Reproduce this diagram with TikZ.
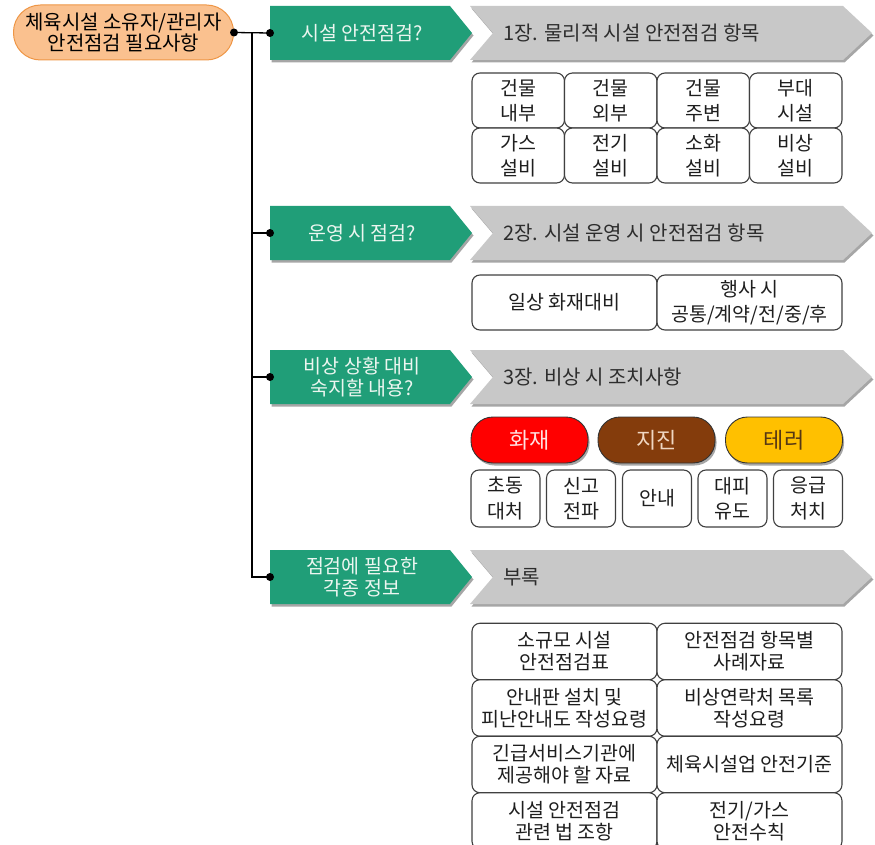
\documentclass[tikz,border=0pt]{standalone}
\usepackage{fontspec}
\setmainfont{Noto Sans CJK KR}
\usetikzlibrary{shadows}
\definecolor{orfill}{RGB}{250,193,143}
\definecolor{ordraw}{RGB}{238,150,70}
\definecolor{grn}{RGB}{32,158,120}
\definecolor{grntext}{RGB}{236,246,240}
\definecolor{chev}{RGB}{200,200,200}
\definecolor{chevtext}{RGB}{45,45,45}
\definecolor{boxline}{RGB}{64,64,64}
\definecolor{boxtext}{RGB}{30,30,30}
\definecolor{firered}{RGB}{255,0,0}
\definecolor{firetext}{RGB}{255,225,225}
\definecolor{quake}{RGB}{132,60,12}
\definecolor{quaketext}{RGB}{240,215,195}
\definecolor{terror}{RGB}{255,192,0}
\definecolor{terrortext}{RGB}{85,55,20}
\begin{document}
\begin{tikzpicture}[x=1pt,y=-1pt,
  shad/.style={drop shadow={shadow xshift=1.5pt,shadow yshift=-2.5pt,opacity=0.35,fill=black}},
  greenshape/.style={fill=grn,shad},
  chevshape/.style={fill=chev,shad},
  gtext/.style={text=grntext,align=center,inner sep=0pt,font=\fontsize{19.5}{22}\selectfont},
  ctext/.style={text=chevtext,anchor=west,inner sep=0pt,font=\fontsize{20}{22}\selectfont},
  cell/.style={draw=boxline,line width=1.1pt,rounded corners=8pt,fill=white,align=center,
    inner sep=0pt,text=boxtext,font=\fontsize{19.5}{25.5}\selectfont},
  appcell/.style={cell,font=\fontsize{19.5}{22}\selectfont},
  pill/.style={draw=black!80,line width=0.9pt,rounded corners=22pt,minimum width=117pt,
    minimum height=46pt,inner sep=0pt,font=\fontsize{22}{24}\selectfont,shad},
  conn/.style={line width=1.3pt,black},
  dot/.style={fill=black}
]
\useasboundingbox (0,0) rectangle (875,845);

% root
\node[draw=ordraw,line width=1pt,fill=orfill,rounded corners=27pt,minimum width=220pt,
  minimum height=55pt,align=center,inner sep=0pt,text=black,
  font=\fontsize{20}{20.5}\selectfont] (root) at (123.5,32.5) {체육시설 소유자/관리자\\안전점검 필요사항};

% green shapes and chevrons
\foreach \c in {33,233,377,577}{
  \path[greenshape] (270,\c-27) -- (450,\c-27) -- (472,\c) -- (450,\c+27) -- (270,\c+27) -- cycle;
  \path[chevshape] (470,\c-27) -- (843,\c-27) -- (872,\c) -- (843,\c+27) -- (470,\c+27) -- (493,\c) -- cycle;
}
\node[gtext] (g1) at (362,33) {시설 안전점검?};
\node[gtext] (g2) at (362,233) {운영 시 점검?};
\node[gtext] (g3) at (362,377) {비상 상황 대비\\숙지할 내용?};
\node[gtext] (g4) at (362,577) {점검에 필요한\\각종 정보};
\coordinate (g1w) at (270,33);
\coordinate (g2w) at (270,233);
\coordinate (g3w) at (270,377);
\coordinate (g4w) at (270,577);

\node[ctext] (c1) at (503,33) {1장. 물리적 시설 안전점검 항목};
\node[ctext] (c2) at (503,233) {2장. 시설 운영 시 안전점검 항목};
\node[ctext] (c3) at (503,377) {3장. 비상 시 조치사항};
\node[ctext] (c4) at (503,577) {부록};

% connectors
\coordinate (j) at (252,33);
\draw[conn] (root.east) -- (g1w);
\draw[conn] (j) |- (g4w);
\draw[conn] (j|-g2w) -- (g2w);
\draw[conn] (j|-g3w) -- (g3w);
\fill[dot] (root.east) circle (4);
\foreach \p in {g1w,g2w,g3w,g4w}{\fill[dot] (\p) circle (4);}

% section 1 grid
\tikzset{s1/.style={cell,minimum width=92.5pt,minimum height=55pt}}
\node[s1] (b11) at (518.25,100.5) {건물\\내부};
\node[s1] (b12) at (610.75,100.5) {건물\\외부};
\node[s1] (b13) at (703.25,100.5) {건물\\주변};
\node[s1] (b14) at (795.75,100.5) {부대\\시설};
\node[s1] (b21) at (518.25,155.5) {가스\\설비};
\node[s1] (b22) at (610.75,155.5) {전기\\설비};
\node[s1] (b23) at (703.25,155.5) {소화\\설비};
\node[s1] (b24) at (795.75,155.5) {비상\\설비};

% section 2
\tikzset{s2/.style={cell,minimum width=185pt,minimum height=55pt}}
\node[s2] (d1) at (564.5,302.5) {일상 화재대비};
\node[s2] (d2) at (749.5,302.5) {행사 시\\공통/계약/전/중/후};

% section 3
\node[pill,fill=firered,text=firetext] (p1) at (529.5,440) {화재};
\node[pill,fill=quake,text=quaketext] (p2) at (656.5,440) {지진};
\node[pill,fill=terror,text=terrortext] (p3) at (784,440) {테러};
\tikzset{s3/.style={cell,minimum width=69pt,minimum height=57pt}}
\node[s3] (e1) at (505.5,498.5) {초동\\대처};
\node[s3] (e2) at (581,498.5) {신고\\전파};
\node[s3] (e3) at (657,498.5) {안내};
\node[s3] (e4) at (732.5,498.5) {대피\\유도};
\node[s3] (e5) at (808,498.5) {응급\\처치};

% appendix
\tikzset{s4/.style={appcell,minimum width=185pt,minimum height=56.5pt}}
\node[s4] (f1) at (564.5,651.5) {소규모 시설\\안전점검표};
\node[s4] (f2) at (749.5,651.5) {안전점검 항목별\\사례자료};
\node[s4] (f3) at (564.5,708) {안내판 설치 및\\피난안내도 작성요령};
\node[s4] (f4) at (749.5,708) {비상연락처 목록\\작성요령};
\node[s4] (f5) at (564.5,764.5) {긴급서비스기관에\\제공해야 할 자료};
\node[s4] (f6) at (749.5,764.5) {체육시설업 안전기준};
\node[s4] (f7) at (564.5,821) {시설 안전점검\\관련 법 조항};
\node[s4] (f8) at (749.5,821) {전기/가스\\안전수칙};
\end{tikzpicture}
\end{document}
